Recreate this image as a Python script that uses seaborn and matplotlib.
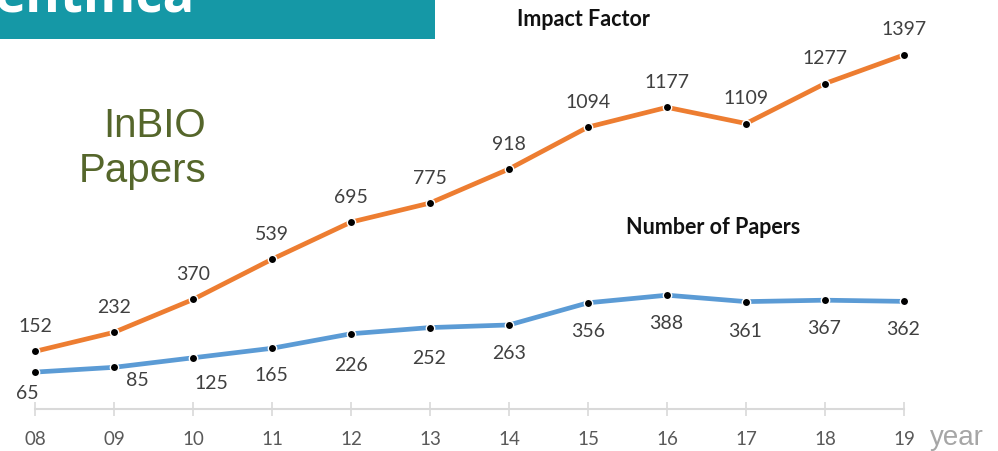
import matplotlib
matplotlib.use("Agg")
import matplotlib.pyplot as plt
import seaborn as sns
import pandas as pd
from matplotlib.patches import Rectangle

# ---- data ----
years = ["08", "09", "10", "11", "12", "13", "14", "15", "16", "17", "18", "19"]
year_num = [8, 9, 10, 11, 12, 13, 14, 15, 16, 17, 18, 19]
impact_factor = [152, 232, 370, 539, 695, 775, 918, 1094, 1177, 1109, 1277, 1397]
num_papers = [65, 85, 125, 165, 226, 252, 263, 356, 388, 361, 367, 362]

# label offsets (pixels, dx, dy-down) for the paper-count labels
paper_label_offsets = [(-8, 20), (23, 12), (18, 25), (-1, 26), (0, 31), (-1, 30),
                       (0, 28), (0, 28), (-1, 27), (-1, 29), (-1, 27), (-1, 27)]

sns.set_theme(style="white")
plt.rcParams["font.family"] = ["Lato", "DejaVu Sans"]

W, H = 998, 452
fig = plt.figure(figsize=(W / 100, H / 100), dpi=100)
fig.patch.set_facecolor("white")

ax = fig.add_axes([35 / W, 42 / H, 869 / W, 410 / H])
ax.set_xlim(8, 19)
ax.set_ylim(-90, 1632)
ax.set_facecolor("none")

df = pd.DataFrame({"year": year_num, "impact": impact_factor, "papers": num_papers})

orange = "#ED7D31"
blue = "#5B9BD5"
common = dict(marker="o", markersize=6, markerfacecolor="black",
              markeredgecolor="white", markeredgewidth=1.0, linewidth=3.4, clip_on=False)
sns.lineplot(data=df, x="year", y="impact", ax=ax, color=orange, **common)
sns.lineplot(data=df, x="year", y="papers", ax=ax, color=blue, **common)

lab_col = "#404040"
for x, v in zip(year_num, impact_factor):
    ax.annotate(str(v), (x, v), xytext=(0, 26), textcoords="offset pixels",
                ha="center", va="center", fontsize=14, color=lab_col)
for (x, v), (dx, dy) in zip(zip(year_num, num_papers), paper_label_offsets):
    ax.annotate(str(v), (x, v), xytext=(dx, -dy), textcoords="offset pixels",
                ha="center", va="center", fontsize=14, color=lab_col)

# axes styling
for s in ["left", "right", "top"]:
    ax.spines[s].set_visible(False)
ax.spines["bottom"].set_color("#d9d9d9")
ax.spines["bottom"].set_linewidth(1.5)
ax.set_yticks([])
ax.set_xticks(year_num)
ax.set_xticklabels(years)
ax.tick_params(axis="x", direction="inout", length=10, width=1.2, colors="#d9d9d9",
               labelcolor="#595959", labelsize=13.5, pad=10, bottom=True)
ax.set_xlabel("")
ax.set_ylabel("")

# titles
fig.text(583 / W, 1 - 19 / H, "Impact Factor", ha="center", va="center",
         fontsize=15.5, fontweight="bold", color="#111111")
fig.text(713 / W, 1 - 228 / H, "Number of Papers", ha="center", va="center",
         fontsize=15.5, fontweight="bold", color="#111111")

# InBIO Papers
olive = "#55662b"
fig.text(206 / W, 1 - 137 / H, "InBIO", ha="right", va="baseline",
         fontsize=29, color=olive, family=["Liberation Sans", "DejaVu Sans"])
fig.text(206 / W, 1 - 182 / H, "Papers", ha="right", va="baseline",
         fontsize=29, color=olive, family=["Liberation Sans", "DejaVu Sans"])

# year label
fig.text(930 / W, 1 - 445 / H, "year", ha="left", va="baseline",
         fontsize=20, color="#a6a6a6", family=["Liberation Sans", "DejaVu Sans"])

# teal banner
fig.add_artist(Rectangle((0, 1 - 40 / H), 435 / W, 40 / H, transform=fig.transFigure,
                         facecolor="#1598a6", edgecolor="none", zorder=0))
fig.text(-5 / W, 1 - 11 / H, "entífica", ha="left", va="baseline",
         fontsize=38, fontweight="bold", color="white",
         family=["Open Sans", "DejaVu Sans"])

fig.savefig("out.png", dpi=100)
